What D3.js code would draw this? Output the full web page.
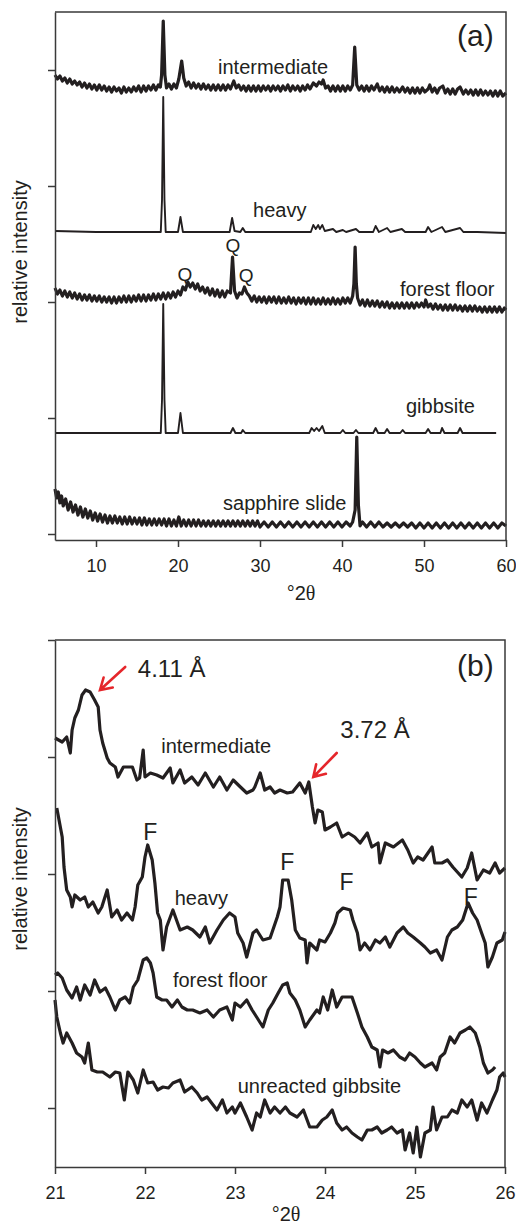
<!DOCTYPE html>
<html>
<head>
<meta charset="utf-8">
<script src="https://cdn.jsdelivr.net/npm/d3@7"></script>
<style>
  body { margin: 0; background: #fff; }
  text { font-family: "Liberation Sans", Arial, sans-serif; fill: #231f20; }
</style>
</head>
<body>
<div id="chart"></div>
<script>
// ---- panel (a): wide scan, 2theta vs relative intensity (offset stacked) ----
var aIntermediate = [[5,459],[5.3,455],[5.6,458],[5.9,453],[6.2,456],[6.5,451],[6.8,455],[7.1,450],[7.4,453],[7.7,449],[8.0,452],[8.3,447],[8.6,451],[8.9,446],[9.2,450],[9.5,445],[9.8,449],[10.1,444],[10.4,449],[10.7,444],[11.0,448],[11.3,443],[11.6,447],[11.9,442],[12.2,447],[12.5,443],[12.8,446],[13.1,441],[13.4,447],[13.7,442],[14.0,446],[14.3,442],[14.6,447],[14.9,443],[15.2,448],[15.5,442],[15.8,448],[16.1,443],[16.4,448],[16.7,444],[17.0,449],[17.3,444],[17.6,449],[17.85,447],[18.0,459],[18.2,513],[18.4,459],[18.6,446],[18.9,450],[19.2,445],[19.5,450],[19.8,446],[20.1,455],[20.45,473],[20.7,456],[21.0,448],[21.3,452],[21.6,446],[21.9,451],[22.2,446],[22.5,450],[22.8,445],[23.1,450],[23.4,445],[23.7,449],[24.0,444],[24.3,449],[24.6,444],[24.9,449],[25.2,444],[25.5,449],[25.8,444],[26.1,449],[26.4,445],[26.8,453],[27.1,446],[27.4,449],[27.7,444],[28.0,448],[28.3,443],[28.6,448],[28.9,443],[29.2,448],[29.5,443],[29.8,448],[30.1,443],[30.4,448],[30.7,444],[31.0,448],[31.3,443],[31.6,448],[31.9,444],[32.2,448],[32.5,443],[32.8,448],[33.1,444],[33.4,449],[33.7,443],[34.0,448],[34.3,444],[34.6,448],[34.9,443],[35.2,448],[35.5,444],[35.8,449],[36.1,445],[36.5,451],[36.9,448],[37.2,452],[37.5,450],[37.7,454],[38.0,446],[38.3,448],[38.6,443],[38.9,448],[39.2,443],[39.5,448],[39.8,443],[40.1,448],[40.4,443],[40.7,448],[41.0,444],[41.3,449],[41.55,487],[41.8,449],[42.1,444],[42.4,448],[42.7,443],[43.0,448],[43.3,443],[43.6,448],[43.9,444],[44.3,450],[44.6,443],[44.9,447],[45.2,442],[45.5,447],[45.8,442],[46.1,447],[46.4,442],[46.7,446],[47.0,442],[47.4,447],[47.7,442],[48.0,446],[48.3,441],[48.6,446],[48.9,441],[49.2,446],[49.5,441],[49.8,446],[50.1,442],[50.5,445],[50.7,449],[51.0,442],[51.3,446],[51.6,441],[51.9,446],[52.3,448],[52.6,441],[52.9,445],[53.2,440],[53.5,445],[53.8,440],[54.1,445],[54.4,447],[54.8,440],[55.1,444],[55.4,440],[55.7,444],[56.0,439],[56.3,444],[56.6,439],[56.9,444],[57.2,439],[57.5,443],[57.8,439],[58.1,443],[58.4,438],[58.7,443],[59.0,438],[59.3,443],[59.6,438],[60,441]];
var aHeavy = [[5,303],[10,302],[17.9,302],[18.05,334],[18.2,437],[18.35,334],[18.5,302],[20.0,302],[20.3,317],[20.6,302],[26.3,302],[26.6,316],[26.9,303],[27.6,302],[27.9,306],[28.2,302],[36.2,302],[36.5,309],[36.8,305],[37.1,309],[37.3,305],[37.6,309],[37.9,303],[38.9,305],[39.3,302],[40.1,304],[40.5,302],[41.7,305],[42.1,302],[43.8,302],[44.1,308],[44.5,302],[45.5,306],[45.9,302],[47.3,305],[47.7,302],[50.2,302],[50.5,307],[50.9,302],[52.2,307],[52.6,302],[54.4,306],[54.8,302],[56.5,302],[60,301]];
var aForest = [[5,246],[5.3,240],[5.6,244],[5.9,238],[6.2,243],[6.5,237],[6.8,242],[7.1,236],[7.4,241],[7.7,235],[8.0,240],[8.3,234],[8.6,239],[8.9,234],[9.2,239],[9.5,233],[9.8,238],[10.1,233],[10.4,238],[10.7,232],[11.0,237],[11.3,232],[11.6,237],[11.9,231],[12.2,237],[12.5,231],[12.8,237],[13.1,232],[13.4,238],[13.7,232],[14.0,238],[14.3,232],[14.6,238],[14.9,233],[15.2,239],[15.5,233],[15.8,239],[16.1,233],[16.4,239],[16.7,234],[17.0,240],[17.3,234],[17.6,240],[17.9,235],[18.2,241],[18.5,235],[18.8,241],[19.1,236],[19.4,242],[19.7,237],[20.0,243],[20.3,239],[20.6,247],[20.9,244],[21.2,252],[21.5,247],[21.8,251],[22.1,245],[22.4,250],[22.7,243],[23.0,247],[23.3,241],[23.6,246],[23.9,239],[24.2,245],[24.5,238],[24.8,244],[25.1,237],[25.4,243],[25.7,237],[26.0,243],[26.4,241],[26.65,277],[26.9,243],[27.2,236],[27.5,241],[27.8,240],[28.1,247],[28.4,241],[28.7,238],[29.0,233],[29.3,238],[29.6,232],[29.9,237],[30.2,232],[30.5,237],[30.8,231],[31.1,237],[31.4,232],[31.7,237],[32.0,231],[32.3,237],[32.6,231],[32.9,236],[33.2,231],[33.5,237],[33.8,231],[34.1,236],[34.4,230],[34.7,236],[35.0,231],[35.3,236],[35.6,230],[35.9,236],[36.2,230],[36.5,236],[36.8,230],[37.1,235],[37.4,230],[37.7,236],[38.0,230],[38.3,235],[38.6,230],[38.9,236],[39.2,230],[39.5,235],[39.8,230],[40.1,236],[40.4,231],[40.7,236],[41.0,231],[41.3,238],[41.45,250],[41.6,287],[41.75,250],[41.9,236],[42.2,229],[42.5,234],[42.8,228],[43.1,234],[43.4,228],[43.7,233],[44.0,228],[44.3,233],[44.6,227],[44.9,232],[45.2,227],[45.5,232],[45.8,226],[46.1,231],[46.4,226],[46.7,231],[47.0,226],[47.3,231],[47.6,226],[47.9,231],[48.2,226],[48.5,231],[48.8,226],[49.1,231],[49.4,227],[49.7,231],[50.0,227],[50.2,234],[50.5,227],[50.8,230],[51.1,225],[51.4,230],[51.7,225],[52.0,229],[52.3,224],[52.6,229],[52.9,224],[53.2,229],[53.5,224],[53.8,229],[54.1,224],[54.4,228],[54.7,223],[55.0,228],[55.3,223],[55.6,228],[55.9,223],[56.2,228],[56.5,223],[56.8,227],[57.1,222],[57.4,227],[57.7,222],[58.0,227],[58.3,222],[58.6,227],[58.9,222],[59.2,227],[59.5,222],[59.8,226],[60,224]];
var aGibbsite = [[5,101],[10,101],[17.9,101],[18.05,134],[18.2,230],[18.35,134],[18.5,101],[20.0,101],[20.3,121],[20.6,101],[26.4,101],[26.7,106],[27.0,101],[27.7,101],[27.9,104],[28.2,101],[36.0,101],[36.3,106],[36.6,103],[36.9,106],[37.2,103],[37.6,108],[37.9,101],[39.8,101],[40.1,104],[40.4,101],[41.4,101],[41.7,104],[42.0,101],[43.8,101],[44.1,106],[44.4,101],[45.2,101],[45.5,105],[45.8,101],[47.1,101],[47.4,104],[47.7,101],[50.2,101],[50.5,105],[50.8,101],[52.0,101],[52.2,106],[52.5,101],[54.1,101],[54.4,106],[54.7,101],[58.8,101]];
var aSapphire = [[5,45],[5.2,36],[5.4,42],[5.6,31],[5.8,38],[6.0,28],[6.3,35],[6.6,24],[6.9,32],[7.2,22],[7.5,29],[7.8,19],[8.1,27],[8.4,17],[8.7,25],[9.0,16],[9.3,23],[9.6,14],[9.9,21],[10.2,13],[10.5,20],[10.8,12],[11.1,19],[11.4,11],[11.7,18],[12.0,11],[12.3,18],[12.6,11],[12.9,17],[13.2,10],[13.5,17],[13.8,10],[14.1,17],[14.4,10],[14.7,16],[15.0,10],[15.3,16],[15.6,9],[15.9,16],[16.2,9],[16.5,15],[16.8,9],[17.1,15],[17.4,9],[17.7,15],[18.0,9],[18.3,15],[18.6,8],[18.9,15],[19.2,8],[19.5,14],[19.8,8],[20.1,17],[20.4,8],[20.7,14],[21.0,8],[21.3,14],[21.6,8],[21.9,14],[22.2,8],[22.5,14],[22.8,8],[23.1,13],[23.4,8],[23.7,13],[24.0,8],[24.3,13],[24.6,8],[24.9,13],[25.2,8],[25.5,13],[25.8,8],[26.1,13],[26.4,8],[26.7,13],[27.0,8],[27.3,13],[27.6,8],[27.9,13],[28.2,8],[28.5,13],[28.8,8],[29.1,13],[29.4,8],[29.7,13],[30.0,7],[30.5,12],[31,7],[31.5,12],[32,7],[32.5,12],[33,7],[33.5,12],[34,7],[34.5,12],[35,7],[35.5,12],[36,7],[36.5,12],[37,7],[37.5,12],[38,7],[38.5,12],[39,7],[39.5,12],[40,7],[40.5,12],[41.0,8],[41.3,12],[41.6,24],[41.8,97],[42.0,29],[42.2,8],[42.5,12],[43,7],[43.5,12],[44,7],[44.5,12],[45,7],[45.5,11],[46,7],[46.5,11],[47,7],[47.5,11],[48,7],[48.5,11],[49,6],[49.5,11],[50,6],[50.5,11],[51,6],[51.5,11],[52,6],[52.5,11],[53,6],[53.5,11],[54,6],[54.5,11],[55,6],[55.5,11],[56,6],[56.5,11],[57,6],[57.5,11],[58,6],[58.5,11],[59,6],[59.5,11],[60,8]];

var aXTicks = [10, 20, 30, 40, 50, 60];
var aYTicks = [0, 116, 232, 348, 464];
var aLabels = [
  {text: 'intermediate', x: 24.88, y: 460},
  {text: 'heavy', x: 29.15, y: 317},
  {text: 'forest floor', x: 47.07, y: 238},
  {text: 'gibbsite', x: 47.8, y: 121},
  {text: 'sapphire slide', x: 25.49, y: 24}
];
var aQ = [[20.85, 253], [26.7, 282], [28.3, 252]];

// ---- panel (b): zoom 21-26 degrees ----
var bIntermediate = [[21.00,370],[21.08,366],[21.13,371],[21.17,355],[21.19,378],[21.22,390],[21.26,398],[21.30,413],[21.34,418],[21.39,416],[21.44,408],[21.48,401],[21.50,378],[21.53,365],[21.58,350],[21.61,345],[21.67,341],[21.70,331],[21.76,341],[21.86,341],[21.91,328],[21.94,330],[21.98,358],[22.00,331],[22.06,335],[22.13,333],[22.20,330],[22.28,340],[22.31,325],[22.39,338],[22.44,325],[22.52,331],[22.59,323],[22.67,335],[22.76,321],[22.83,331],[22.91,318],[22.98,328],[23.06,321],[23.13,315],[23.20,318],[23.22,321],[23.28,335],[23.33,318],[23.39,321],[23.44,315],[23.50,318],[23.58,315],[23.64,316],[23.72,325],[23.78,315],[23.82,326],[23.86,301],[23.89,285],[23.92,298],[23.97,296],[24.00,278],[24.06,281],[24.13,285],[24.19,271],[24.26,275],[24.33,271],[24.39,265],[24.47,275],[24.52,261],[24.59,265],[24.61,245],[24.67,265],[24.76,261],[24.86,268],[24.92,258],[24.98,245],[25.03,251],[25.09,248],[25.19,261],[25.22,245],[25.30,245],[25.36,248],[25.42,241],[25.52,231],[25.58,240],[25.63,255],[25.69,228],[25.76,238],[25.83,235],[25.89,245],[25.94,235],[26.00,240]];
var bHeavy = [[21.02,300],[21.08,271],[21.10,241],[21.13,218],[21.17,211],[21.19,201],[21.22,213],[21.28,208],[21.33,211],[21.37,201],[21.42,206],[21.48,195],[21.52,201],[21.58,218],[21.63,191],[21.69,198],[21.74,188],[21.80,195],[21.86,188],[21.89,201],[21.92,223],[21.97,231],[22.00,251],[22.03,263],[22.08,248],[22.11,225],[22.14,195],[22.17,188],[22.20,158],[22.24,181],[22.31,198],[22.39,178],[22.47,181],[22.53,178],[22.61,171],[22.67,181],[22.72,165],[22.80,178],[22.87,188],[22.94,195],[23.00,191],[23.03,175],[23.09,165],[23.13,151],[23.20,175],[23.24,178],[23.31,168],[23.39,170],[23.47,191],[23.50,201],[23.53,228],[23.59,228],[23.63,208],[23.67,178],[23.72,170],[23.78,168],[23.80,145],[23.83,165],[23.91,158],[23.94,168],[24.00,166],[24.06,175],[24.11,185],[24.14,195],[24.20,200],[24.28,198],[24.31,188],[24.36,175],[24.39,158],[24.44,165],[24.50,158],[24.56,168],[24.61,165],[24.67,171],[24.72,161],[24.80,175],[24.87,181],[24.92,175],[24.98,171],[25.06,165],[25.11,161],[25.17,155],[25.24,158],[25.30,148],[25.36,171],[25.41,178],[25.47,181],[25.53,188],[25.59,205],[25.64,195],[25.69,188],[25.74,175],[25.78,165],[25.81,141],[25.86,151],[25.91,165],[25.97,168],[26.00,176]];
var bForest = [[21.00,133],[21.03,135],[21.08,130],[21.13,118],[21.19,110],[21.24,121],[21.28,108],[21.33,123],[21.39,113],[21.44,128],[21.50,116],[21.56,120],[21.61,111],[21.67,98],[21.72,108],[21.78,111],[21.83,105],[21.87,121],[21.92,128],[21.98,148],[22.02,150],[22.06,145],[22.09,135],[22.13,111],[22.19,108],[22.24,108],[22.30,101],[22.36,108],[22.41,101],[22.47,98],[22.53,98],[22.61,95],[22.69,98],[22.76,91],[22.83,98],[22.91,101],[22.97,88],[23.00,105],[23.06,101],[23.13,108],[23.19,98],[23.24,91],[23.31,81],[23.37,98],[23.42,105],[23.48,115],[23.53,123],[23.58,125],[23.61,115],[23.67,108],[23.72,98],[23.78,81],[23.83,88],[23.91,98],[23.94,95],[23.98,111],[24.03,98],[24.08,118],[24.13,101],[24.19,111],[24.24,111],[24.30,111],[24.36,95],[24.41,81],[24.47,71],[24.52,61],[24.58,58],[24.61,41],[24.64,58],[24.70,55],[24.76,58],[24.83,51],[24.89,48],[24.94,55],[25.00,51],[25.06,45],[25.11,41],[25.19,45],[25.24,38],[25.28,51],[25.33,55],[25.39,71],[25.44,65],[25.50,75],[25.56,78],[25.61,81],[25.67,75],[25.72,61],[25.76,45],[25.81,35],[25.86,38],[25.89,41]];
var bGibbsite = [[21.00,108],[21.02,91],[21.06,75],[21.09,65],[21.13,75],[21.19,65],[21.24,55],[21.30,51],[21.33,45],[21.37,65],[21.41,38],[21.47,36],[21.53,36],[21.61,31],[21.67,36],[21.72,35],[21.77,8],[21.81,36],[21.87,28],[21.92,15],[21.98,38],[22.03,25],[22.09,26],[22.14,18],[22.20,21],[22.26,20],[22.31,25],[22.39,28],[22.44,16],[22.52,21],[22.58,15],[22.63,8],[22.69,11],[22.74,5],[22.80,-2],[22.86,8],[22.91,-5],[22.97,1],[23.00,-5],[23.06,5],[23.13,-9],[23.19,-22],[23.24,-5],[23.28,-9],[23.33,8],[23.39,-5],[23.44,1],[23.50,-5],[23.56,1],[23.61,-5],[23.69,-9],[23.76,-2],[23.83,-19],[23.91,-19],[23.97,-12],[24.02,-9],[24.08,-2],[24.13,-15],[24.19,-22],[24.24,-19],[24.30,-25],[24.36,-29],[24.41,-32],[24.47,-22],[24.52,-22],[24.58,-19],[24.63,-25],[24.69,-22],[24.74,-19],[24.80,-25],[24.86,-22],[24.89,-42],[24.94,-25],[24.98,-45],[25.02,-19],[25.06,-49],[25.11,-25],[25.17,-22],[25.20,1],[25.24,-22],[25.30,-9],[25.36,-9],[25.41,-2],[25.47,-5],[25.52,8],[25.58,1],[25.63,8],[25.69,-12],[25.74,5],[25.80,-5],[25.86,8],[25.91,18],[25.94,31],[25.98,35],[26.00,31]];

var bXTicks = [21, 22, 23, 24, 25, 26];
var bYTicks = [0, 117, 234, 351, 468];
var bLabels = [
  {text: 'intermediate', x: 22.18, y: 355},
  {text: 'heavy', x: 22.33, y: 203},
  {text: 'forest floor', x: 22.31, y: 121},
  {text: 'unreacted gibbsite', x: 23.03, y: 15}
];
var bF = [[22.06, 268], [23.58, 238], [24.24, 218], [25.62, 203]];
var bPeaks = [
  {text: '4.11 Å', x: 21.92, y: 431, tail: [21.78, 441], tip: [21.50, 418]},
  {text: '3.72 Å', x: 24.17, y: 370, tail: [24.13, 355], tip: [23.87, 331]}
];

var width = 516, height = 1228;
var ink = '#231f20', axisCol = '#3a3a3a', red = '#e5262b';

var svg = d3.select('#chart').append('svg')
    .attr('width', width)
    .attr('height', height);

var drawPanel = function(p){
  var x = d3.scaleLinear().domain(p.xDomain).range([p.left, p.right]);
  var y = d3.scaleLinear().domain(p.yDomain).range([p.bottom, p.top]);
  var g = svg.append('g');

  var line = d3.line()
      .x(function(d){ return x(d[0]); })
      .y(function(d){ return y(d[1]); });

  p.series.forEach(function(s){
    g.append('path')
        .datum(s.data)
        .attr('d', line)
        .attr('fill', 'none')
        .attr('stroke', ink)
        .attr('stroke-width', s.w)
        .attr('stroke-linejoin', 'round');
  });

  // frame
  g.append('path')
      .attr('d', 'M' + p.left + ',' + p.top + 'H' + p.right + 'V' + p.bottom)
      .attr('fill', 'none')
      .attr('stroke', axisCol)
      .attr('stroke-width', 1.5);

  var xAxis = g.append('g')
      .attr('transform', 'translate(0,' + p.bottom + ')')
      .call(d3.axisBottom(x).tickValues(p.xTicks).tickFormat(d3.format('d'))
        .tickSize(7).tickSizeOuter(0).tickPadding(12));
  var yAxis = g.append('g')
      .attr('transform', 'translate(' + p.left + ',0)')
      .call(d3.axisLeft(y).tickValues(p.yTicks).tickFormat('').tickSize(7).tickSizeOuter(0));
  [xAxis, yAxis].forEach(function(a){
    a.selectAll('path, line').attr('stroke', axisCol).attr('stroke-width', 1.5);
    a.selectAll('text').style('font-size', '18px').attr('fill', ink)
      .style('font-family', '"Liberation Sans", Arial, sans-serif');
  });

  // axis titles
  var xt = g.append('text')
      .attr('x', p.xTitleX)
      .attr('y', p.xTitleY)
      .attr('text-anchor', 'middle')
      .style('font-size', '20px');
  xt.append('tspan').text('°2');
  xt.append('tspan').text('θ').style('font-family', '"Liberation Serif", serif');

  g.append('text')
      .attr('transform', 'translate(27,' + p.yTitleY + ') rotate(-90)')
      .attr('text-anchor', 'middle')
      .style('font-size', '20px')
      .text('relative intensity');

  g.append('text')
      .attr('x', p.tagX)
      .attr('y', p.tagY)
      .style('font-size', '30px')
      .text(p.tag);

  g.selectAll('text.lab')
      .data(p.labels)
    .enter().append('text')
      .attr('class', 'lab')
      .attr('x', function(d){ return x(d.x); })
      .attr('y', function(d){ return y(d.y); })
      .style('font-size', '20px')
      .text(function(d){ return d.text; });

  g.selectAll('text.mark')
      .data(p.marks)
    .enter().append('text')
      .attr('class', 'mark')
      .attr('x', function(d){ return x(d[0]); })
      .attr('y', function(d){ return y(d[1]); })
      .attr('text-anchor', 'middle')
      .style('font-size', p.markSize)
      .text(p.markText);

  return {x: x, y: y, g: g};
};

drawPanel({
  xDomain: [5, 60], yDomain: [-6, 522],
  left: 55, right: 506, top: 12, bottom: 540,
  xTicks: aXTicks, yTicks: aYTicks,
  xTitleX: 301, xTitleY: 600, yTitleY: 252,
  tag: '(a)', tagX: 457, tagY: 46,
  labels: aLabels, marks: aQ, markText: 'Q', markSize: '19px',
  series: [
    {data: aIntermediate, w: 3.2},
    {data: aHeavy, w: 1.9},
    {data: aForest, w: 3.2},
    {data: aGibbsite, w: 1.9},
    {data: aSapphire, w: 3.2}
  ]
});

var pb = drawPanel({
  xDomain: [21, 26], yDomain: [-59, 468],
  left: 55, right: 505, top: 640, bottom: 1167,
  xTicks: bXTicks, yTicks: bYTicks,
  xTitleX: 286, xTitleY: 1221, yTitleY: 879,
  tag: '(b)', tagX: 457, tagY: 676,
  labels: bLabels, marks: bF, markText: 'F', markSize: '23px',
  series: [
    {data: bIntermediate, w: 3.2},
    {data: bHeavy, w: 3.2},
    {data: bForest, w: 3.2},
    {data: bGibbsite, w: 3.2}
  ]
});

// d-spacing callouts with red arrows
bPeaks.forEach(function(d){
  var t0 = [pb.x(d.tail[0]), pb.y(d.tail[1])],
      t1 = [pb.x(d.tip[0]), pb.y(d.tip[1])];
  var ang = Math.atan2(t1[1] - t0[1], t1[0] - t0[0]),
      hl = 13, spread = 0.55;
  var h1 = [t1[0] - hl * Math.cos(ang - spread), t1[1] - hl * Math.sin(ang - spread)],
      h2 = [t1[0] - hl * Math.cos(ang + spread), t1[1] - hl * Math.sin(ang + spread)];
  pb.g.append('path')
      .attr('d', 'M' + t0 + 'L' + t1 + 'M' + h1 + 'L' + t1 + 'L' + h2)
      .attr('fill', 'none')
      .attr('stroke', red)
      .attr('stroke-width', 2.6)
      .attr('stroke-linecap', 'round');
  pb.g.append('text')
      .attr('x', pb.x(d.x))
      .attr('y', pb.y(d.y))
      .style('font-size', '24px')
      .text(d.text);
});
</script>
</body>
</html>
